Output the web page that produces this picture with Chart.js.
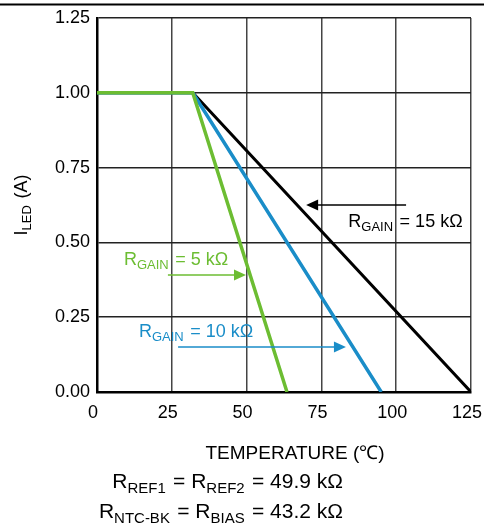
<!DOCTYPE html>
<html>
<head>
<meta charset="utf-8">
<script src="https://cdn.jsdelivr.net/npm/chart.js@4"></script>
<style>
  body { margin: 0; background: #fff; }
</style>
</head>
<body>
<canvas id="Chart" width="484" height="525"></canvas>
<script>
// temperature (C) vs LED current (A) for three gain resistors
const gain5 = [[0, 1], [32, 1], [63.5, 0]];
const gain10 = [[0, 1], [32, 1], [95, 0]];
const gain15 = [[0, 1], [32, 1], [125, 0]];
const xTicks = [0, 25, 50, 75, 100, 125];
const yTicks = [0, 0.25, 0.5, 0.75, 1.0, 1.25];

const GREEN = '#6cbd32';
const BLUE = '#1a8dc8';
const FONT = '"Liberation Sans", Arial, sans-serif';

// annotation labels/arrows, positioned in data units
const notes = [
  { color: '#000', label: ['R', 'GAIN', ' = 15 k\u03A9'], lx: 84, ly: 0.551, from: 103.3, to: 69.9, ay: 0.625 },
  { color: GREEN, label: ['R', 'GAIN', ' = 5 k\u03A9'], lx: 9, ly: 0.424, from: 23.7, to: 49.8, ay: 0.391 },
  { color: BLUE, label: ['R', 'GAIN', ' = 10 k\u03A9'], lx: 14, ly: 0.184, from: 27.1, to: 83.2, ay: 0.15 }
];

function toPts(arr) { return arr.map(p => ({ x: p[0], y: p[1] })); }

// draws [main, sub, main, sub, ...] segments, returns width
function richText(ctx, parts, x, y, size, subSize, align) {
  const widths = parts.map((t, i) => {
    ctx.font = (i % 2 ? subSize : size) + 'px ' + FONT;
    return ctx.measureText(t).width + (i % 2 ? 1.5 : 0);
  });
  const total = widths.reduce((a, b) => a + b, 0);
  let cx = align === 'right' ? x - total : align === 'center' ? x - total / 2 : x;
  ctx.textAlign = 'left';
  ctx.textBaseline = 'alphabetic';
  parts.forEach((t, i) => {
    ctx.font = (i % 2 ? subSize : size) + 'px ' + FONT;
    ctx.fillText(t, cx, i % 2 ? y + size * 0.22 : y);
    cx += widths[i];
  });
  return total;
}

const extras = {
  id: 'extras',
  afterDraw(chart) {
    const ctx = chart.ctx;
    const xs = chart.scales.x, ys = chart.scales.y;
    ctx.save();

    // rule across the top
    ctx.strokeStyle = '#000';
    ctx.lineWidth = 2;
    ctx.beginPath();
    ctx.moveTo(0, 4.5);
    ctx.lineTo(chart.width, 4.5);
    ctx.stroke();

    notes.forEach(n => {
      ctx.fillStyle = n.color;
      richText(ctx, n.label, xs.getPixelForValue(n.lx), ys.getPixelForValue(n.ly), 18, 13, 'left');
      const x0 = xs.getPixelForValue(n.from), x1 = xs.getPixelForValue(n.to);
      const y = ys.getPixelForValue(n.ay);
      const dir = x1 > x0 ? 1 : -1;
      ctx.strokeStyle = n.color;
      ctx.lineWidth = 1.5;
      ctx.beginPath();
      ctx.moveTo(x0, y);
      ctx.lineTo(x1 - dir * 10, y);
      ctx.stroke();
      ctx.beginPath();
      ctx.moveTo(x1, y);
      ctx.lineTo(x1 - dir * 12, y - 5.5);
      ctx.lineTo(x1 - dir * 12, y + 5.5);
      ctx.closePath();
      ctx.fill();
    });

    ctx.fillStyle = '#000';
    // axis titles
    ctx.font = '19px ' + FONT;
    ctx.textAlign = 'center';
    ctx.fillText('TEMPERATURE (\u2103)', 295, 459);
    richText(ctx, ['R', 'REF1', ' = R', 'REF2', ' = 49.9 k\u03A9'], 343, 488, 21, 15, 'right');
    richText(ctx, ['R', 'NTC-BK', ' = R', 'BIAS', ' = 43.2 k\u03A9'], 343, 518, 21, 15, 'right');

    ctx.translate(27, (chart.chartArea.top + chart.chartArea.bottom) / 2);
    ctx.rotate(-Math.PI / 2);
    richText(ctx, ['I', 'LED', ' (A)'], 0, 0, 18, 13, 'center');
    ctx.restore();
  }
};

const ctx = document.getElementById('Chart').getContext('2d');
const chart = new Chart(ctx, {
  type: 'line',
  data: {
    datasets: [
      { label: '5k', data: toPts(gain5), borderColor: GREEN, borderWidth: 3.5 },
      { label: '10k', data: toPts(gain10), borderColor: BLUE, borderWidth: 3.5 },
      { label: '15k', data: toPts(gain15), borderColor: '#000', borderWidth: 3 }
    ]
  },
  options: {
    responsive: false,
    animation: false,
    elements: { point: { radius: 0 }, line: { tension: 0 } },
    layout: { padding: { top: 18, right: 13, left: 0, bottom: 0 } },
    plugins: { legend: { display: false }, tooltip: { enabled: false } },
    scales: {
      x: {
        type: 'linear',
        min: 0, max: 125,
        afterBuildTicks: s => { s.ticks = xTicks.map(v => ({ value: v })); },
        afterFit: s => { s.height = 133; s.paddingLeft = 0; s.paddingRight = 0; },
        grid: { color: '#444', lineWidth: 1.5, drawTicks: false },
        border: { color: '#000', width: 2.5 },
        ticks: { color: '#000', padding: 10, labelOffset: -4, font: { family: FONT, size: 18 } }
      },
      y: {
        min: 0, max: 1.25,
        afterBuildTicks: s => { s.ticks = yTicks.map(v => ({ value: v })); },
        afterFit: s => { s.width = 97; },
        grid: { color: '#222', lineWidth: 1.5, drawTicks: false },
        border: { color: '#000', width: 2.5 },
        ticks: { color: '#000', padding: 7, font: { family: FONT, size: 18 },
                 callback: v => v.toFixed(2) }
      }
    }
  },
  plugins: [extras]
});
</script>
</body>
</html>
